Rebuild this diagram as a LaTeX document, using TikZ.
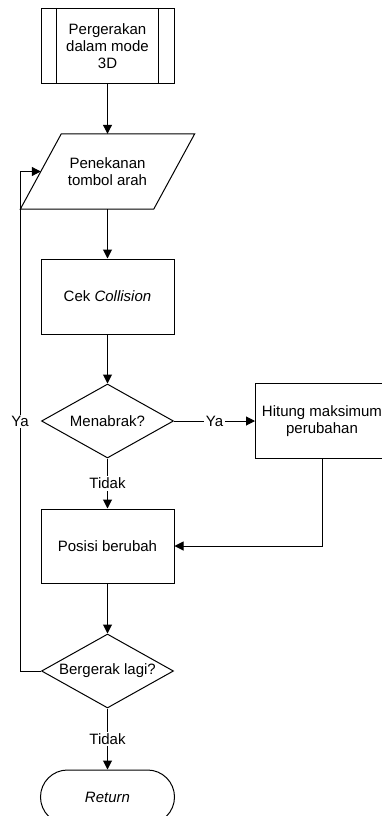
\documentclass[tikz,border=0pt]{standalone}
\usepackage{fontspec}
\setmainfont{Liberation Sans}
\usetikzlibrary{shapes.geometric,shapes.misc,arrows.meta,calc}
\begin{document}
\begin{tikzpicture}[x=1pt,y=-1pt,
  every node/.style={font=\fontsize{15}{17}\selectfont},
  procbox/.style={draw, line width=1pt, rectangle, minimum width=133pt, minimum height=75pt, inner sep=0pt, align=center},
  iobox/.style={rectangle, minimum width=133pt, minimum height=75pt, inner sep=0pt, align=center},
  decbox/.style={draw, line width=1pt, diamond, aspect=1.78, minimum width=132pt, minimum height=74pt, inner sep=0pt, align=center},
  termbox/.style={draw, line width=1pt, rounded rectangle, minimum width=134pt, minimum height=54pt, inner sep=0pt},
  arr/.style={line width=1pt, -{Triangle[length=9pt,width=9pt]}},
  plain/.style={line width=1pt},
  lbl/.style={fill=white, inner sep=1.5pt}]
\clip (0,0) rectangle (382,816);
\fill[white] (0,0) rectangle (382,816);

\node[procbox] (start) at (107.5,46) {Pergerakan\\dalam mode\\3D};
\draw[plain] ($(start.north west)+(16,0)$) -- ($(start.south west)+(16,0)$);
\draw[plain] ($(start.north east)+(-16,0)$) -- ($(start.south east)+(-16,0)$);

\node[iobox] (inp) at (107.5,171.5) {Penekanan\\tombol arah};
\draw[plain] ($(inp.north west)+(20.5,0)$) -- ($(inp.north east)+(20.5,0)$)
  -- ($(inp.south east)+(-20.5,0)$) -- ($(inp.south west)+(-20.5,0)$) -- cycle;

\node[procbox] (cek) at (107.5,296.5) {Cek \textit{Collision}};
\node[decbox] (dia1) at (107.5,421) {Menabrak?};
\node[procbox] (hit) at (322,421) {Hitung maksimum\\perubahan};
\node[procbox, minimum height=74pt] (pos) at (107.5,546) {Posisi berubah};
\node[decbox] (dia2) at (107.5,671) {Bergerak lagi?};
\node[termbox] (ret) at (107.5,797) {\textit{Return}};

\draw[arr] (start.south) -- (inp.north);
\draw[arr] (inp.south) -- (cek.north);
\draw[arr] (cek.south) -- (dia1.north);
\draw[arr] (dia1.east) -- node[lbl] {Ya} (hit.west);
\draw[arr] (dia1.south) -- node[lbl] {Tidak} (pos.north);
\draw[arr] (hit.south) |- (pos.east);
\draw[arr] (pos.south) -- (dia2.north);
\draw[arr] (dia2.south) -- node[lbl] {Tidak} (ret.north);
\draw[arr] (dia2.west) -- ++(-21,0) |- node[lbl, pos=0.25] {Ya} (inp.west);
\end{tikzpicture}
\end{document}
